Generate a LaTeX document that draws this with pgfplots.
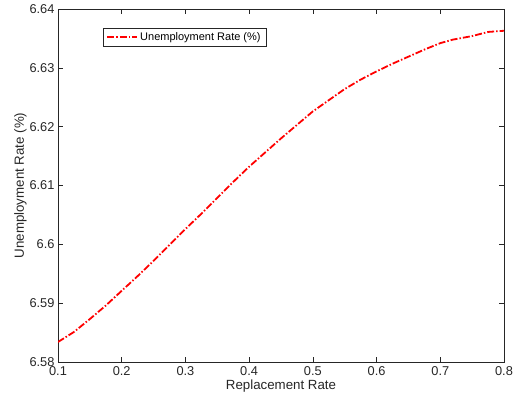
\documentclass[border=0pt]{standalone}
\usepackage{pgfplots}
\pgfplotsset{compat=1.18}
\usepackage{fontspec}
\setmainfont{Liberation Sans}
\definecolor{axgray}{gray}{0.15}
\begin{document}
\begin{tikzpicture}
\useasboundingbox (0,0) rectangle (516bp,406bp);
\begin{axis}[
  scale only axis,
  width=446bp, height=353bp,
  at={(58bp,44bp)}, anchor=south west,
  xmin=0.1, xmax=0.8, ymin=6.58, ymax=6.64,
  /pgf/number format/assume math mode=true,
  xtick={0.1,0.2,...,0.8},
  ytick={6.58,6.59,6.60,6.61,6.62,6.63,6.64},
  yticklabels={6.58,6.59,6.6,6.61,6.62,6.63,6.64},
  xticklabels={0.1,0.2,0.3,0.4,0.5,0.6,0.7,0.8},
  tick align=inside,
  major tick length=5bp,
  axis line style={axgray, line width=0.6bp},
  every tick/.style={axgray, line width=0.6bp},
  tick label style={font=\fontsize{12.8bp}{14bp}\selectfont, text=axgray},
  xticklabel style={yshift=-1bp},
  label style={font=\fontsize{13.3bp}{15bp}\selectfont, text=axgray},
  xlabel={Replacement Rate},
  ylabel={Unemployment Rate (\%)},
  xlabel style={yshift=3bp},
  ylabel style={yshift=-4bp},
  legend style={at={(0.1,0.947)}, anchor=north west, draw=axgray, line width=0.6bp,
    font=\fontsize{11bp}{13bp}\selectfont, inner xsep=3.5bp, inner ysep=2.5bp},
  legend cell align=left,
  legend image code/.code={\draw[#1] (0bp,0bp) -- (30bp,0bp);},
]
\addplot[red, line width=1.8bp, dash pattern=on 7bp off 2bp on 1.5bp off 2bp] coordinates {
(0.100,6.5834) (0.125,6.5851) (0.150,6.5873) (0.175,6.5896) (0.200,6.5921)
(0.225,6.5946) (0.250,6.5972) (0.275,6.5999) (0.300,6.6026) (0.325,6.6052)
(0.350,6.6079) (0.375,6.6106) (0.400,6.6132) (0.425,6.6156) (0.450,6.6180)
(0.475,6.6203) (0.500,6.6226) (0.525,6.6245) (0.550,6.6264) (0.575,6.6280)
(0.600,6.6294) (0.625,6.6307) (0.650,6.6319) (0.675,6.6331) (0.700,6.6342)
(0.720,6.6348) (0.750,6.6354) (0.775,6.6361) (0.800,6.6363)
};
\addlegendentry{Unemployment Rate (\%)}
\end{axis}
\end{tikzpicture}
\end{document}
